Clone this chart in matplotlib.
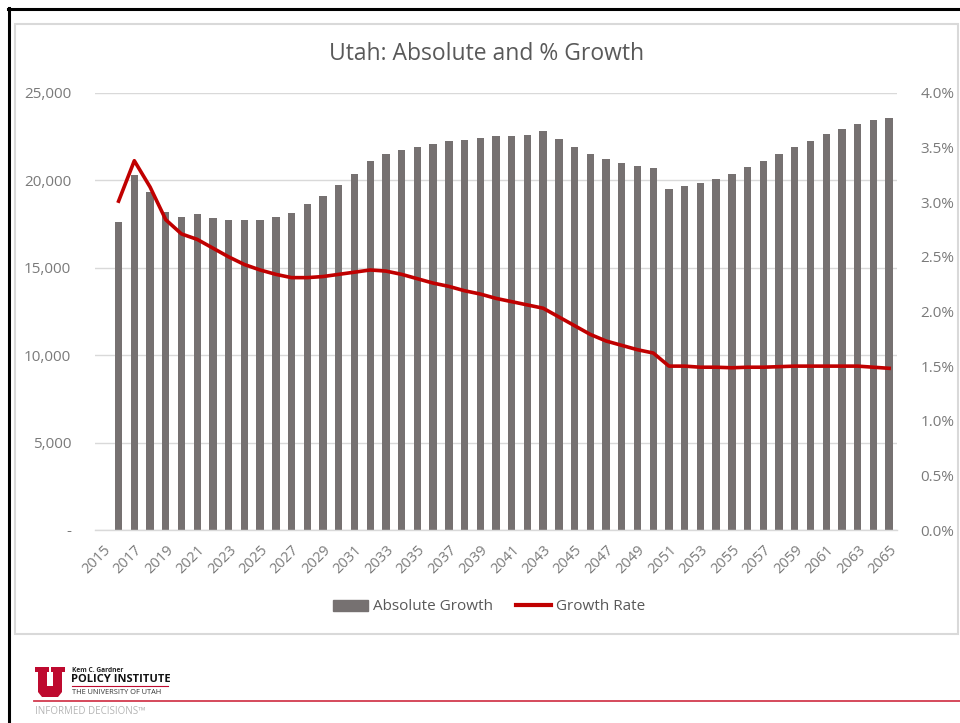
import numpy as np
import matplotlib
matplotlib.use('Agg')
import matplotlib.pyplot as plt
from matplotlib.lines import Line2D
from matplotlib.patches import Patch, Rectangle, Polygon
from matplotlib.ticker import FuncFormatter

plt.rcParams['font.family'] = ['Open Sans', 'DejaVu Sans']

# ---- data ----
years = list(range(2015, 2066))
absolute_growth = [
    np.nan, 17640, 20310, 19360, 18210, 17910, 18060, 17870, 17750, 17720,
    17750, 17890, 18120, 18650, 19110, 19720, 20370, 21110, 21510, 21740,
    21930, 22100, 22240, 22330, 22450, 22520, 22560, 22600, 22850, 22350,
    21890, 21510, 21210, 20980, 20810, 20730, 19530, 19680, 19870, 20080,
    20370, 20750, 21110, 21510, 21890, 22270, 22640, 22960, 23250, 23460,
    23590,
]
growth_rate = [
    np.nan, 3.01, 3.38, 3.14, 2.84, 2.71, 2.66, 2.58, 2.50, 2.43,
    2.38, 2.34, 2.31, 2.31, 2.32, 2.34, 2.36, 2.38, 2.37, 2.34,
    2.30, 2.26, 2.23, 2.19, 2.16, 2.12, 2.09, 2.06, 2.03, 1.95,
    1.87, 1.79, 1.73, 1.69, 1.65, 1.62, 1.50, 1.50, 1.49, 1.49,
    1.485, 1.49, 1.49, 1.495, 1.50, 1.50, 1.50, 1.50, 1.50, 1.49,
    1.48,
]
tick_years = [str(y) for y in years[::2]]

bar_color = '#767171'
line_color = '#c00000'
grid_color = '#d9d9d9'
label_color = '#7a7a7a'
title_color = '#595959'

W, H = 960, 723
fig = plt.figure(figsize=(W / 100, H / 100), dpi=100)


def fx(x):
    return x / W


def fy(y):
    return 1 - y / H


# slide frame + chart box
fig.add_artist(Line2D([fx(8), fx(960)], [fy(9), fy(9)], color='black', lw=2.2))
fig.add_artist(Line2D([fx(9), fx(9)], [fy(8), fy(723)], color='black', lw=2.2))
fig.add_artist(Rectangle((fx(15), fy(634)), fx(958) - fx(15), fy(24) - fy(634),
                         fill=False, edgecolor='#d9d9d9', lw=1.5))

# ---- chart ----
ax = fig.add_axes([fx(95), fy(530), fx(897) - fx(95), fy(93) - fy(530)])
x = np.arange(len(years))
ax.bar(x, absolute_growth, width=0.47, color=bar_color, zorder=2)
ax.set_xlim(-0.5, len(years) - 0.5)
ax.set_ylim(0, 25000)
ax.set_yticks(range(0, 25001, 5000))
ax.yaxis.set_major_formatter(FuncFormatter(lambda v, p: '-' if v == 0 else f'{v:,.0f}'))
ax.yaxis.grid(True, color=grid_color, lw=1, zorder=0)
ax.set_axisbelow(True)
for s in ['top', 'right', 'left']:
    ax.spines[s].set_visible(False)
ax.spines['bottom'].set_color(grid_color)
ax.spines['bottom'].set_linewidth(1)
ax.set_xticks(x[::2])
ax.set_xticklabels(tick_years, rotation=45, ha='right', rotation_mode='anchor')
ax.tick_params(axis='x', length=0, pad=9, labelsize=10.5, labelcolor=label_color)
ax.tick_params(axis='y', length=0, pad=17, labelsize=11, labelcolor=label_color)

ax2 = ax.twinx()
ax2.plot(x, growth_rate, color=line_color, lw=2.6, zorder=3)
ax2.set_ylim(0, 4.0)
ax2.set_yticks(np.arange(0, 4.01, 0.5))
ax2.yaxis.set_major_formatter(FuncFormatter(lambda v, p: f'{v:.1f}%'))
for s in ['top', 'right', 'left', 'bottom']:
    ax2.spines[s].set_visible(False)
ax2.tick_params(axis='y', length=0, pad=17, labelsize=11, labelcolor=label_color)

fig.text(fx(487), fy(54), 'Utah: Absolute and % Growth', ha='center', va='center',
         fontsize=16.5, color=title_color)

handles = [Patch(color=bar_color), Line2D([], [], color=line_color, lw=3)]
fig.legend(handles, ['Absolute Growth', 'Growth Rate'], loc='center',
           bbox_to_anchor=(fx(489), fy(607)), ncol=2, frameon=False, fontsize=11,
           handlelength=2.3, handleheight=0.7, handletextpad=0.3, columnspacing=1.5,
           labelcolor=title_color)

# ---- footer logo ----
u_red = '#be0a2f'
u_pts = [(35, 667), (49, 667), (49, 672), (47, 672), (47, 686), (53, 686), (53, 672),
         (51, 672), (51, 667), (65, 667), (65, 672), (62, 672), (62, 692), (58, 697),
         (42, 697), (38, 692), (38, 672), (35, 672)]
fig.add_artist(Polygon([(fx(a), fy(b)) for a, b in u_pts], closed=True,
                       facecolor=u_red, edgecolor='none'))
fig.text(fx(72), fy(671), 'Kem C. Gardner', fontsize=4.8, fontweight='bold',
         color='#222222', va='center')
fig.text(fx(71), fy(680), 'POLICY INSTITUTE', fontsize=8, fontweight='bold',
         color='#111111', va='center')
fig.add_artist(Line2D([fx(72), fx(168)], [fy(686), fy(686)], color=u_red, lw=0.8))
fig.text(fx(72), fy(692), 'THE UNIVERSITY OF UTAH', fontsize=5.3, color='#333333',
         va='center')
fig.add_artist(Line2D([fx(34), fx(960)], [fy(701), fy(701)], color='#d23a4e', lw=1.3))
fig.text(fx(35), fy(711), 'INFORMED DECISIONS™', fontsize=7, color='#b5b5b5',
         va='center')

fig.savefig('out.png', dpi=100)
